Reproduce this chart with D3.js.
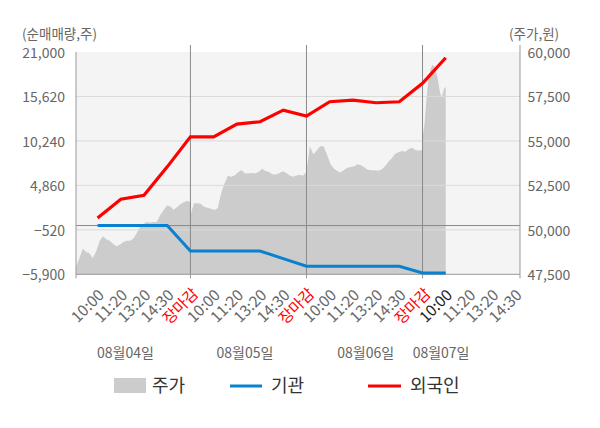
<!DOCTYPE html>
<html><head><meta charset="utf-8">
<script src="https://cdnjs.cloudflare.com/ajax/libs/d3/7.8.5/d3.min.js"></script>
<style>
html,body{margin:0;padding:0;background:#fff;}
svg{display:block;font-family:"Noto Sans CJK KR","Noto Sans",sans-serif;}
</style></head><body>
<svg id="c" width="600" height="428"></svg>
<script>
// ---- data ----
const slotLabels = ["10:00","11:20","13:20","14:30","장마감","10:00","11:20","13:20","14:30","장마감","10:00","11:20","13:20","14:30","장마감","10:00","11:20","13:20","14:30"];
const dateLabels = ["08월04일","08월05일","08월06일","08월07일"];
const dateSlots = [1.2, 6.35, 11.55, 14.8];
const dayBoundaries = [4, 9, 14];
const daySpans = [[-0.93, 4], [4, 9], [9, 14], [14, 15]];
const leftTicks = [21000, 15620, 10240, 4860, -520, -5900];
const rightTicks = [60000, 57500, 55000, 52500, 50000, 47500];
const foreignNet = [920, 3190, 3670, 7100, 10740, 10740, 12280, 12560, 13970, 13250, 14980, 15180, 14860, 14980, 17210, 20310];
const instNet = [0, 0, 0, 0, -3080, -3080, -3080, -3080, -4000, -4930, -4930, -4930, -4930, -4930, -5740, -5740];
const priceDay1 = [47910,48400,48935,48755,48680,48400,48795,49355,49640,49470,49385,49215,49075,49160,49300,49385,49385,49500,49810,50145,50315,50455,50400,50445,50445,50820,51105,51355,51330,51130,51270,51440,51555,51625,51570];
const priceDay2 = [50820,51500,51500,51470,51300,51245,51190,51115,51215,52060,52625,53045,52990,53075,53245,53345,53175,53185,53190,53175,53270,53440,53310,53255,53120,53115,53185,53290,53215,53075,52980,53055,53100,53045,53260];
const priceDay3 = [53300,54705,54255,54455,54705,54705,54230,53720,53445,53310,53220,53370,53495,53540,53570,53695,53635,53505,53385,53355,53345,53320,53395,53580,53825,54030,54280,54360,54430,54390,54540,54620,54480,54460,54480];
const priceDay4 = [55215,55890,57300,58425,58985,59270,59210,58875,58425,57750,57440,57915,58045];

// ---- layout ----
const L = 76, R = 520, T = 52, B = 274.3;
const svg = d3.select("#c");
const x = d3.scaleLinear().domain([-0.93, 18.2]).range([L, R]);
const yL = d3.scaleLinear().domain([-5900, 21000]).range([B, T]);
const yR = d3.scaleLinear().domain([47500, 60000]).range([B, T]);

// background
svg.append("rect").attr("x", L).attr("y", T).attr("width", R - L).attr("height", B - T).attr("fill", "#f4f4f4");

// price area
const days = [priceDay1, priceDay2, priceDay3, priceDay4];
const pricePts = [];
days.forEach((arr, di) => {
  const [s, e] = daySpans[di];
  arr.forEach((p, i) => pricePts.push({t: s + (e - s) * i / (arr.length - 1), p}));
});
svg.append("path").datum(pricePts)
  .attr("d", d3.area().x(d => x(d.t)).y0(B).y1(d => yR(d.p)))
  .attr("fill", "#cccccc");

// grid lines
svg.append("g").selectAll("line").data(leftTicks.slice(1, -1)).join("line")
  .attr("x1", L).attr("x2", R).attr("y1", d => yL(d)).attr("y2", d => yL(d))
  .attr("stroke", "#dadada").attr("stroke-width", 1);
// zero line
svg.append("line").attr("x1", L).attr("x2", R).attr("y1", yL(0)).attr("y2", yL(0))
  .attr("stroke", "#8a8a8a").attr("stroke-width", 1);
// day boundaries
svg.append("g").selectAll("line").data(dayBoundaries).join("line")
  .attr("x1", d => x(d)).attr("x2", d => x(d)).attr("y1", 45).attr("y2", B)
  .attr("stroke", "#8a8a8a").attr("stroke-width", 1);
// axes lines
svg.append("line").attr("x1", L).attr("x2", L).attr("y1", T).attr("y2", B).attr("stroke", "#999");
svg.append("line").attr("x1", R).attr("x2", R).attr("y1", 45).attr("y2", B).attr("stroke", "#999");
svg.append("line").attr("x1", L).attr("x2", R).attr("y1", B).attr("y2", B).attr("stroke", "#999");
svg.append("g").selectAll("line").data([x.domain()[0], ...dayBoundaries, x.domain()[1]]).join("line")
  .attr("x1", d => x(d)).attr("x2", d => x(d)).attr("y1", B).attr("y2", B + 4).attr("stroke", "#999");

// lines
const line = d3.line().x((d, i) => x(i)).y(d => yL(d));
svg.append("path").datum(instNet).attr("d", line).attr("fill", "none")
  .attr("stroke", "#0a80d0").attr("stroke-width", 3);
svg.append("path").datum(foreignNet).attr("d", line).attr("fill", "none")
  .attr("stroke", "#ff0000").attr("stroke-width", 3.2);

// left ticks
svg.append("g").selectAll("text").data(leftTicks).join("text")
  .attr("x", 65).attr("y", d => yL(d) + 1).attr("dy", "0.35em").attr("text-anchor", "end")
  .attr("font-size", 14).attr("fill", "#666").text(d => d3.format(",")(d));
// right ticks
svg.append("g").selectAll("text").data(rightTicks).join("text")
  .attr("x", 527.5).attr("y", d => yR(d) + 1).attr("dy", "0.35em").attr("text-anchor", "start")
  .attr("font-size", 14).attr("fill", "#666").text(d => d3.format(",")(d));
// axis titles
svg.append("text").attr("x", 22).attr("y", 34).attr("dy", "0.35em").attr("font-size", 13.5).attr("fill", "#666").text("(순매매량,주)");
svg.append("text").attr("x", 509).attr("y", 34).attr("dy", "0.35em").attr("font-size", 13.5).attr("fill", "#666").text("(주가,원)");

// x labels
svg.append("g").selectAll("text").data(slotLabels).join("text")
  .attr("transform", (d, i) => `translate(${x(i) - 10},306) rotate(-45)`)
  .attr("dy", "0.35em").attr("text-anchor", "middle").attr("font-size", 15.5)
  .attr("fill", (d, i) => d === "장마감" ? "#ff0000" : (i === 15 ? "#222" : "#666"))
  .text(d => d);

// date labels
svg.append("g").selectAll("text").data(dateLabels).join("text")
  .attr("x", (d, i) => x(dateSlots[i])).attr("y", 353).attr("dy", "0.35em")
  .attr("text-anchor", "middle").attr("font-size", 14).attr("fill", "#666").text(d => d);

// legend
const lg = svg.append("g");
lg.append("rect").attr("x", 114).attr("y", 378).attr("width", 32).attr("height", 15).attr("fill", "#cccccc");
lg.append("text").attr("x", 152).attr("y", 386).attr("dy", "0.35em").attr("font-size", 18).attr("fill", "#333").text("주가");
lg.append("line").attr("x1", 230).attr("x2", 262).attr("y1", 386).attr("y2", 386).attr("stroke", "#0a80d0").attr("stroke-width", 3);
lg.append("text").attr("x", 271).attr("y", 386).attr("dy", "0.35em").attr("font-size", 18).attr("fill", "#333").text("기관");
lg.append("line").attr("x1", 368).attr("x2", 401).attr("y1", 386).attr("y2", 386).attr("stroke", "#ff0000").attr("stroke-width", 3);
lg.append("text").attr("x", 410).attr("y", 386).attr("dy", "0.35em").attr("font-size", 18).attr("fill", "#333").text("외국인");
</script>
</body></html>
